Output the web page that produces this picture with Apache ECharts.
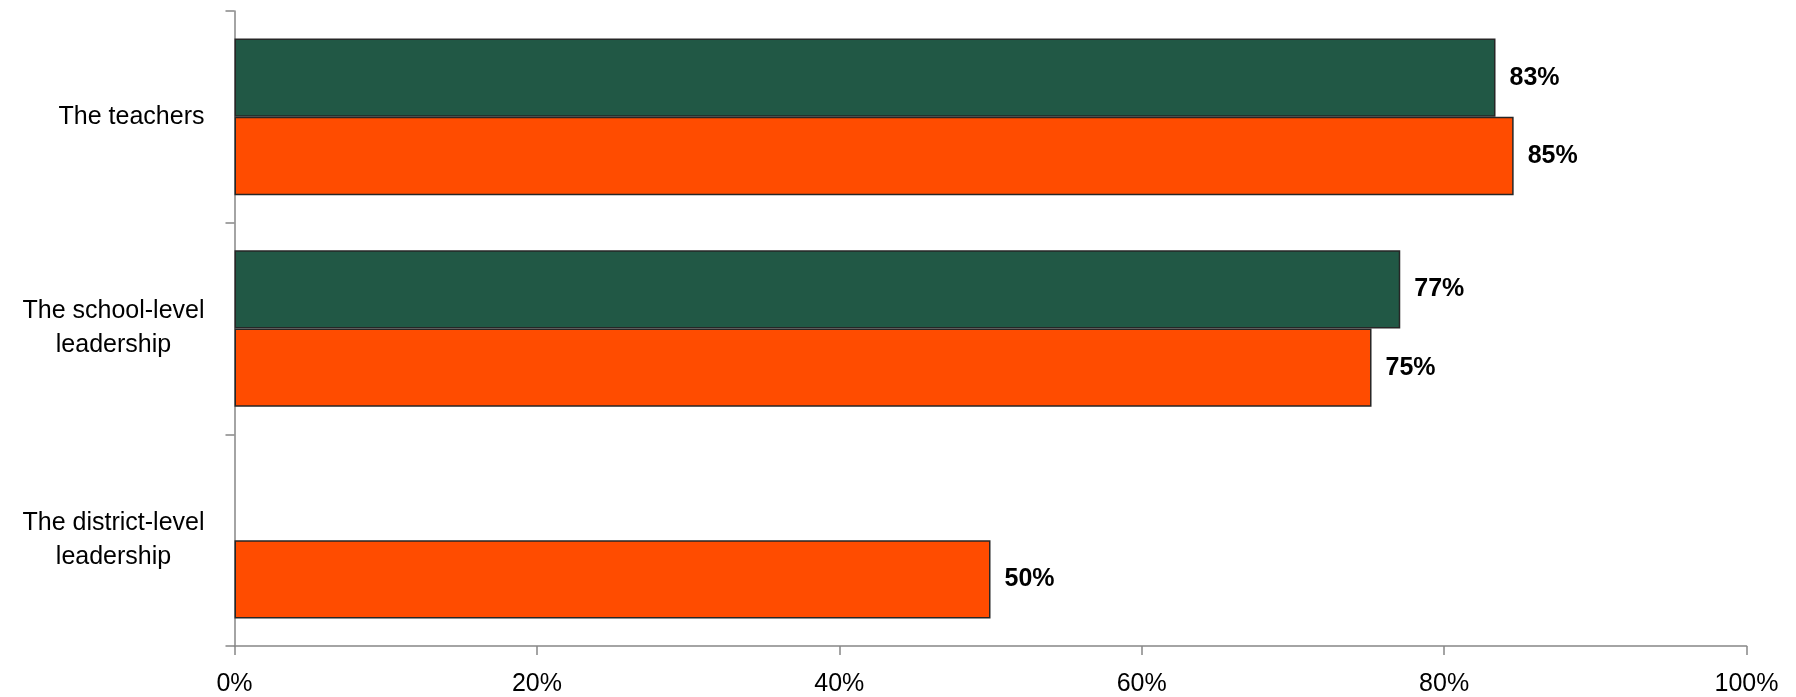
<!DOCTYPE html>
<html>
<head>
<meta charset="utf-8">
<script src="https://cdn.jsdelivr.net/npm/echarts@6/dist/echarts.min.js"></script>
<style>
html,body{margin:0;padding:0;background:#fff;}
#chart{width:1796px;height:697px;}
</style>
</head>
<body>
<div id="chart"></div>
<script>
const categories = ["The teachers", "The school-level\nleadership", "The district-level\nleadership"];
const greenValues = [83.4, 77.1, null];
const orangeValues = [84.6, 75.2, 50.0];
const xTicks = [0, 20, 40, 60, 80, 100];

const FONT = "'Liberation Sans', Arial, sans-serif";
const chart = echarts.init(document.getElementById('chart'));

const labelStyle = {
  show: true,
  position: 'right',
  distance: 14,
  color: '#000',
  fontFamily: FONT,
  fontWeight: 'bold',
  fontSize: 25,
  formatter: p => Math.round(p.value) + '%'
};

chart.setOption({
  animation: false,
  backgroundColor: '#fff',
  grid: { left: 234.5, right: 49.5, top: 11, bottom: 51, containLabel: false },
  xAxis: {
    type: 'value',
    min: xTicks[0], max: xTicks[xTicks.length - 1], interval: xTicks[1] - xTicks[0],
    axisLine: { show: true, lineStyle: { color: '#868686', width: 1.5 } },
    axisTick: { show: true, length: 9, inside: false, lineStyle: { color: '#868686', width: 1.5 } },
    splitLine: { show: false },
    axisLabel: {
      margin: 26,
      color: '#000',
      fontFamily: FONT,
      fontSize: 25,
      formatter: v => v + '%'
    }
  },
  yAxis: {
    type: 'category',
    inverse: true,
    data: categories,
    axisLine: { show: true, lineStyle: { color: '#868686', width: 1.5 } },
    axisTick: { show: true, length: 9, lineStyle: { color: '#868686', width: 1.5 } },
    axisLabel: {
      margin: 30,
      color: '#000',
      fontFamily: FONT,
      fontSize: 25,
      lineHeight: 34,
      align: 'right',
      formatter: v => v.split('\n').map(l => '{c|' + l + '}').join('\n'),
      rich: { c: { align: 'center', fontFamily: FONT, fontSize: 25, lineHeight: 34, color: '#000' } }
    }
  },
  series: [
    {
      name: 'Green',
      type: 'bar',
      data: greenValues,
      barGap: '0%',
      barCategoryGap: '26%',
      itemStyle: { color: '#215845', borderColor: '#262626', borderWidth: 1.5 },
      label: labelStyle
    },
    {
      name: 'Orange',
      type: 'bar',
      data: orangeValues,
      barGap: '0%',
      barCategoryGap: '26%',
      itemStyle: { color: '#FF4C00', borderColor: '#262626', borderWidth: 1.5 },
      label: labelStyle
    }
  ]
});
</script>
</body>
</html>
